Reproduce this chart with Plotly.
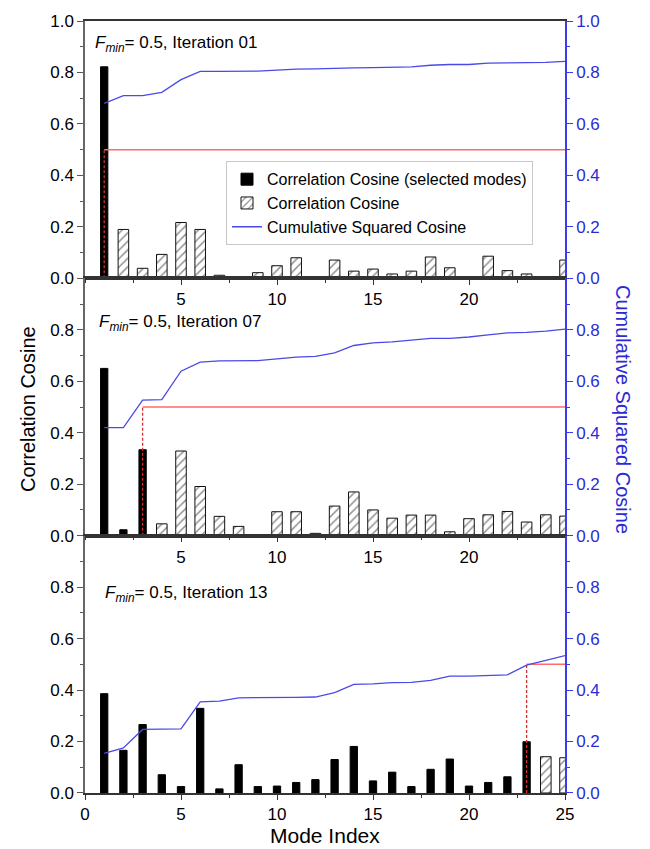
import plotly.graph_objects as go

# ---------------- data ----------------
modes = list(range(1, 26))
fmin = 0.5

cos_it01 = [0.822, 0.190, 0.039, 0.093, 0.217, 0.190, 0.012, 0.005, 0.022, 0.049,
            0.080, 0.004, 0.071, 0.028, 0.036, 0.017, 0.028, 0.083, 0.041, 0.005,
            0.086, 0.030, 0.017, 0.000, 0.071]
cum_it01 = [0.680, 0.710, 0.710, 0.723, 0.772, 0.804, 0.804, 0.804, 0.805, 0.809,
            0.813, 0.814, 0.817, 0.818, 0.819, 0.821, 0.822, 0.828, 0.831, 0.831,
            0.836, 0.837, 0.837, 0.839, 0.843]
sel_it01 = 1

cos_it07 = [0.650, 0.023, 0.334, 0.046, 0.329, 0.191, 0.075, 0.036, 0.004, 0.093,
            0.093, 0.009, 0.115, 0.170, 0.100, 0.068, 0.080, 0.080, 0.015, 0.066,
            0.081, 0.094, 0.053, 0.081, 0.076]
cum_it07 = [0.420, 0.420, 0.527, 0.529, 0.639, 0.674, 0.679, 0.680, 0.680, 0.687,
            0.694, 0.697, 0.710, 0.739, 0.749, 0.753, 0.759, 0.767, 0.767, 0.772,
            0.780, 0.788, 0.790, 0.795, 0.803]
sel_it07 = 3

cos_it13 = [0.386, 0.166, 0.266, 0.071, 0.025, 0.329, 0.016, 0.110, 0.025, 0.027,
            0.041, 0.052, 0.130, 0.181, 0.047, 0.081, 0.025, 0.092, 0.132, 0.027,
            0.041, 0.063, 0.199, 0.141, 0.137]
cum_it13 = [0.154, 0.175, 0.247, 0.249, 0.249, 0.354, 0.357, 0.370, 0.370, 0.370,
            0.372, 0.373, 0.390, 0.422, 0.424, 0.429, 0.430, 0.438, 0.454, 0.454,
            0.456, 0.459, 0.497, 0.515, 0.534]
sel_it13 = 23

panels = [
    ("Iteration 01", cos_it01, cum_it01, sel_it01),
    ("Iteration 07", cos_it07, cum_it07, sel_it07),
    ("Iteration 13", cos_it13, cum_it13, sel_it13),
]

x_major_inner = [5, 10, 15, 20]
x_major_bottom = [0, 5, 10, 15, 20, 25]
y_major_top = [0.0, 0.2, 0.4, 0.6, 0.8, 1.0]
y_major_other = [0.0, 0.2, 0.4, 0.6, 0.8]

# ---------------- style ----------------
FONT = "Liberation Sans, Arial, sans-serif"
BLUE_LINE = "#4a4ae8"
BLUE_AX = "#3a3af0"
BLUE_TXT = "#2b2bd6"
RED = "#ff6a6a"
RED_D = "#d43030"
W, H = 650, 849
ML, MR, MT, MB = 85, 85, 17, 56
PH = H - MT - MB

fig = go.Figure()

for i, (label, cosv, cumv, nsel) in enumerate(panels):
    k = i + 1
    xa = "x" if k == 1 else f"x{k}"
    ya = "y" if k == 1 else f"y{k}"
    yr = f"y{k + 3}"
    first = (k == 1)
    # selected (black) bars
    fig.add_trace(go.Bar(
        x=modes[:nsel], y=cosv[:nsel], width=0.38,
        marker=dict(color="black", line=dict(color="black", width=1)),
        name="Correlation Cosine (selected modes)", showlegend=first,
        legendrank=1, xaxis=xa, yaxis=ya))
    # hatched bars
    fig.add_trace(go.Bar(
        x=modes[nsel:], y=cosv[nsel:], width=0.55,
        marker=dict(color="white", line=dict(color="#111", width=1),
                    pattern=dict(shape="/", fgcolor="#222", bgcolor="white",
                                 size=6, solidity=0.25)),
        name="Correlation Cosine", showlegend=first,
        legendrank=2, xaxis=xa, yaxis=ya))
    # Fmin horizontal line
    fig.add_trace(go.Scatter(
        x=[nsel, modes[-1]], y=[fmin, fmin], mode="lines",
        line=dict(color=RED, width=1.5), showlegend=False,
        hoverinfo="skip", xaxis=xa, yaxis=ya))
    # vertical dashed line
    fig.add_trace(go.Scatter(
        x=[nsel, nsel], y=[0, fmin], mode="lines",
        line=dict(color=RED_D, width=1.3, dash="3px,2px"), showlegend=False,
        hoverinfo="skip", xaxis=xa, yaxis=ya))
    # cumulative squared cosine
    fig.add_trace(go.Scatter(
        x=modes, y=cumv, mode="lines", line=dict(color=BLUE_LINE, width=1.3),
        name="Cumulative Squared Cosine", showlegend=first, legendrank=3,
        xaxis=xa, yaxis=yr))

layout = dict(
    width=W, height=H, margin=dict(l=ML, r=MR, t=MT, b=MB),
    plot_bgcolor="white", paper_bgcolor="white",
    barmode="overlay", font=dict(family=FONT, size=17, color="black"),
    showlegend=True,
    legend=dict(x=(226 - ML) / 480, y=(H - MB - 158) / PH, xanchor="left", yanchor="top",
                bgcolor="white", bordercolor="#c8c8c8", borderwidth=1,
                font=dict(family=FONT, size=16), tracegroupgap=0,
                traceorder="normal", itemwidth=30),
)

domains = [[2 / 3, 1.0], [1 / 3, 2 / 3], [0.0, 1 / 3]]
for i in range(3):
    k = i + 1
    xkey = "xaxis" if k == 1 else f"xaxis{k}"
    ykey = "yaxis" if k == 1 else f"yaxis{k}"
    ya = "y" if k == 1 else f"y{k}"
    xa = "x" if k == 1 else f"x{k}"
    xt = x_major_bottom if k == 3 else x_major_inner
    yt = y_major_top if k == 1 else y_major_other
    layout[xkey] = dict(
        domain=[0, 1], anchor=ya, range=[0, 25], tickmode="array", tickvals=xt,
        ticktext=[str(v) for v in xt], ticks="outside", ticklen=5, tickwidth=1.2,
        tickcolor="#333", showline=True, linecolor="#333", linewidth=1.5,
        mirror=True, showgrid=False, zeroline=False,
        tickfont=dict(family=FONT, size=17, color="black"),
        minor=dict(tickmode="linear", tick0=0, dtick=2.5, ticks="outside",
                   ticklen=3, tickcolor="#333", showgrid=False))
    layout[ykey] = dict(
        domain=domains[i], anchor=xa, range=[0, 1], tickmode="array", tickvals=yt,
        ticktext=[f"{v:.1f}" for v in yt], ticks="outside", ticklen=6, tickwidth=1.2,
        tickcolor="#555", showline=True, linecolor="#666", linewidth=1.5,
        showgrid=False, zeroline=False,
        tickfont=dict(family=FONT, size=17, color="black"),
        minor=dict(tickmode="linear", tick0=0, dtick=0.1, ticks="outside",
                   ticklen=3, tickcolor="#555", showgrid=False))
    layout[f"yaxis{k + 3}"] = dict(
        overlaying=ya, anchor=xa, side="right", range=[0, 1], tickmode="array",
        tickvals=yt, ticktext=[f"{v:.1f}" for v in yt], ticks="outside", ticklen=6,
        tickwidth=1.2, tickcolor=BLUE_AX, showline=True, linecolor=BLUE_AX,
        linewidth=1.5, showgrid=False, zeroline=False,
        tickfont=dict(family=FONT, size=17, color=BLUE_TXT),
        minor=dict(tickmode="linear", tick0=0, dtick=0.1, ticks="outside",
                   ticklen=3, tickcolor=BLUE_AX, showgrid=False))

fig.update_layout(**layout)


def px_x(x):
    return (x - ML) / (W - ML - MR)


def px_y(y):
    return (H - MB - y) / PH


ann_pos = [(93, 40), (97, 321), (103, 593)]
for (label, _, _, _), (ax, ay) in zip(panels, ann_pos):
    fig.add_annotation(
        x=px_x(ax), y=px_y(ay), xref="paper", yref="paper", xanchor="left",
        yanchor="middle", showarrow=False,
        text=f"<i>F</i><sub><i>min</i></sub>= {fmin}, {label}",
        font=dict(family=FONT, size=17, color="black"))

fig.add_annotation(x=px_x(28), y=px_y(407), xref="paper", yref="paper",
                   xanchor="center", yanchor="middle",
                   text="Correlation Cosine", textangle=-90, showarrow=False,
                   font=dict(family=FONT, size=20, color="black"))
fig.add_annotation(x=px_x(623), y=px_y(407), xref="paper", yref="paper",
                   xanchor="center", yanchor="middle",
                   text="Cumulative Squared Cosine", textangle=90, showarrow=False,
                   font=dict(family=FONT, size=20, color=BLUE_TXT))
fig.add_annotation(x=px_x(325), y=px_y(849), xref="paper", yref="paper",
                   xanchor="center", yanchor="bottom",
                   text="Mode Index", showarrow=False,
                   font=dict(family=FONT, size=21, color="black"))

fig.write_html("out.html")
